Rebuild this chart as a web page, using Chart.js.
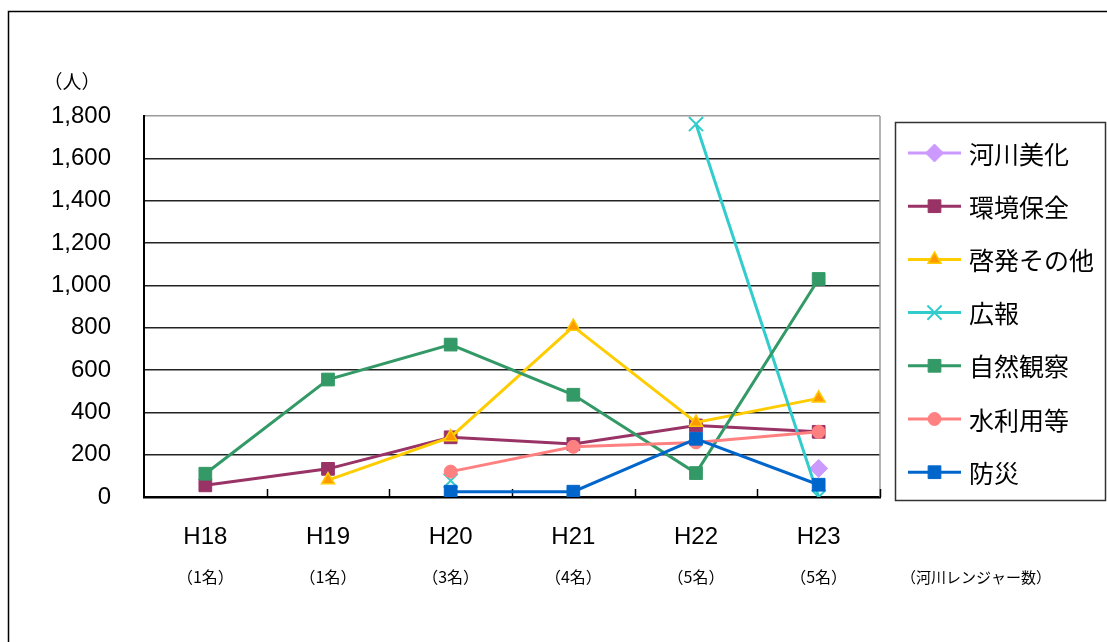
<!DOCTYPE html>
<html><head><meta charset="utf-8">
<script src="https://cdn.jsdelivr.net/npm/chart.js@4.4.0/dist/chart.umd.min.js"></script>
<style>html,body{margin:0;padding:0;background:#fff;} canvas{display:block;}</style>
</head><body>
<canvas id="c" width="1107" height="642"></canvas>
<script>
// ---- data ----
const categories = ['H18', 'H19', 'H20', 'H21', 'H22', 'H23'];
const rangerCounts = ['（1名）', '（1名）', '（3名）', '（4名）', '（5名）', '（5名）'];
const rangerNote = '（河川レンジャー数）';
const unitLabel = '（人）';
const yTicks = [0, 200, 400, 600, 800, 1000, 1200, 1400, 1600, 1800];

const seriesNames = ['河川美化', '環境保全', '啓発その他', '広報', '自然観察', '水利用等', '防災'];
const kasenBika      = [null, null, null, null, null, 135];
const kankyoHozen    = [55, 133, 282, 250, 338, 308];
const keihatsuSonota = [null, 80, 283, 805, 352, 466];
const koho           = [null, null, 77, null, 1762, 0];
const shizenKansatsu = [110, 555, 720, 483, 113, 1030];
const suiriyo        = [null, null, 120, 237, 258, 308];
const bosai          = [null, null, 25, 25, 275, 58];

// ---- styles ----
const styles = [
  {line:'#CC99FF', fill:'#CC99FF', edge:'#CC99FF', shape:'rectRot', r:9, bw:1},
  {line:'#993366', fill:'#993366', edge:'#993366', shape:'rect', r:9, bw:1},
  {line:'#FFCC00', fill:'#FF9900', edge:'#FFCC00', shape:'triangle', r:7.5, bw:1.5},
  {line:'#33CCCC', fill:'#33CCCC', edge:'#33CCCC', shape:'crossRot', r:10, bw:2},
  {line:'#339966', fill:'#339966', edge:'#339966', shape:'rect', r:9, bw:1},
  {line:'#FF8080', fill:'#FF8080', edge:'#FF8080', shape:'circle', r:6.5, bw:1},
  {line:'#0066CC', fill:'#0066CC', edge:'#0066CC', shape:'rect', r:9, bw:1}
];
const seriesData = [kasenBika, kankyoHozen, keihatsuSonota, koho, shizenKansatsu, suiriyo, bosai];

const datasets = seriesData.map((d, i) => ({
  label: seriesNames[i],
  data: d,
  borderColor: styles[i].line,
  backgroundColor: styles[i].fill,
  borderWidth: 3,
  pointStyle: styles[i].shape,
  pointRadius: styles[i].r,
  pointHoverRadius: styles[i].r,
  pointBackgroundColor: styles[i].fill,
  pointBorderColor: styles[i].edge,
  pointBorderWidth: styles[i].bw,
  tension: 0,
  spanGaps: false,
  order: seriesData.length - i
}));

const decor = {
  id: 'decor',
  beforeDatasetsDraw(chart) {
    const ctx = chart.ctx, a = chart.chartArea;
    ctx.save();
    ctx.strokeStyle = '#9a9a9a';
    ctx.lineWidth = 1.5;
    ctx.beginPath();
    ctx.moveTo(a.right, a.top);
    ctx.lineTo(a.right, a.bottom);
    ctx.stroke();
    ctx.strokeStyle = '#000';
    ctx.lineWidth = 1.5;
    const catW = (a.right - a.left) / categories.length;
    for (let i = 1; i <= categories.length; i++) {
      const x = Math.round(a.left + i * catW) + 0.5;
      ctx.beginPath();
      ctx.moveTo(x, a.bottom);
      ctx.lineTo(x, a.bottom - 8);
      ctx.stroke();
    }
    ctx.restore();
  },
  afterDraw(chart) {
    const ctx = chart.ctx, xs = chart.scales.x;
    ctx.save();
    ctx.strokeStyle = '#000';
    ctx.lineWidth = 1.5;
    ctx.beginPath();
    ctx.moveTo(8.5, 700);
    ctx.lineTo(8.5, 11.5);
    ctx.lineTo(1200, 11.5);
    ctx.stroke();
    ctx.fillStyle = '#000';
    ctx.font = '19px "Noto Sans CJK JP"';
    ctx.textAlign = 'center';
    ctx.textBaseline = 'middle';
    ctx.fillText(unitLabel, 72, 82);
    ctx.font = '16px "Noto Sans CJK JP"';
    rangerCounts.forEach((t, i) => {
      ctx.fillText(t, xs.getPixelForValue(i), 577);
    });
    ctx.font = '15px "Noto Sans CJK JP"';
    ctx.fillText(rangerNote, 976, 577);
    const bx = 895.5, by = 122.5, bw = 210, bh = 378;
    ctx.strokeStyle = '#333';
    ctx.lineWidth = 1.5;
    ctx.strokeRect(bx, by, bw, bh);
    const y0 = 153, step = 53.2;
    chart.data.datasets.forEach((ds, i) => {
      const y = y0 + i * step;
      ctx.strokeStyle = ds.borderColor;
      ctx.lineWidth = 3;
      ctx.beginPath();
      ctx.moveTo(908, y);
      ctx.lineTo(961, y);
      ctx.stroke();
      ctx.fillStyle = ds.pointBackgroundColor;
      ctx.strokeStyle = ds.pointBorderColor;
      ctx.lineWidth = ds.pointBorderWidth;
      Chart.helpers.drawPoint(ctx, {pointStyle: ds.pointStyle, radius: ds.pointRadius, rotation: 0, borderWidth: ds.pointBorderWidth}, 934.5, y);
      ctx.fillStyle = '#000';
      ctx.font = '25px "Noto Sans CJK JP"';
      ctx.textAlign = 'left';
      ctx.textBaseline = 'middle';
      ctx.fillText(ds.label, 969, y + 1);
    });
    ctx.restore();
  }
};

new Chart(document.getElementById('c'), {
  type: 'line',
  data: { labels: categories, datasets },
  options: {
    responsive: false,
    animation: false,
    devicePixelRatio: 1,
    layout: { padding: { left: 0, top: 116, right: 227, bottom: 85 } },
    plugins: { legend: { display: false }, tooltip: { enabled: false } },
    scales: {
      x: {
        offset: true,
        grid: { display: true, drawOnChartArea: false, drawTicks: false },
        border: { color: '#000', width: 2.5 },
        ticks: { color: '#000', font: { family: '"Liberation Sans", Arial', size: 24 }, padding: 26, maxRotation: 0 },
        afterFit(s) { s.height = 60; }
      },
      y: {
        min: 0, max: 1800,
        afterBuildTicks(s) { s.ticks = yTicks.map(v => ({ value: v })); },
        grid: {
          drawTicks: false,
          color: c => (c.tick && c.tick.value === 1800) ? '#9a9a9a' : '#222',
          lineWidth: 1.5
        },
        border: { color: '#000', width: 2 },
        ticks: {
          color: '#000',
          font: { family: '"Liberation Sans", Arial', size: 24 },
          padding: 33,
          callback: v => v.toLocaleString('en-US')
        },
        afterFit(s) { s.width = 144; }
      }
    }
  },
  plugins: [decor]
});
</script>
</body></html>
